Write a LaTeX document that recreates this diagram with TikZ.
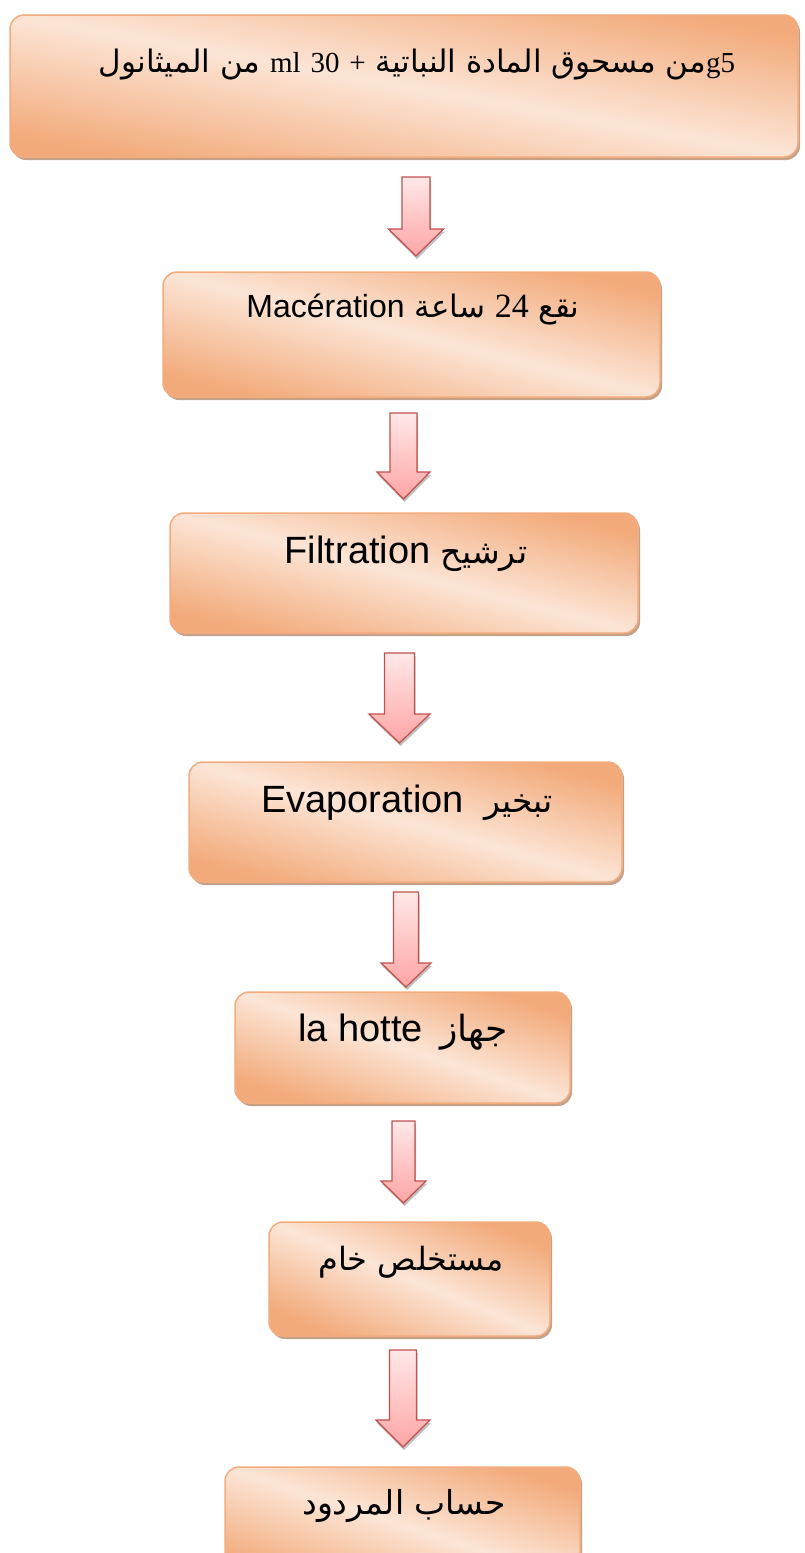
\documentclass[tikz,border=0pt]{standalone}
\usepackage{fontspec}
\usetikzlibrary{shadows,calc}
\TeXXeTstate=1
\newfontfamily\arabicfont[Script=Arabic]{DejaVu Sans}
\newfontfamily\serifl{Liberation Serif}
\newfontfamily\sansl{Liberation Sans}
\definecolor{boxdark}{RGB}{242,170,122}
\definecolor{boxlight}{RGB}{252,229,214}
\definecolor{boxborder}{RGB}{242,172,126}
\definecolor{boxshadow}{RGB}{196,162,138}
\definecolor{arrtop}{RGB}{255,232,232}
\definecolor{arrbot}{RGB}{255,165,165}
\definecolor{arrborder}{RGB}{192,80,77}
\definecolor{arrshadow}{RGB}{150,150,150}
\tikzset{
  flowbox/.style={draw=boxborder, line width=1.5pt, rounded corners=14pt,
    bottom color=boxdark, top color=boxdark, middle color=boxlight, shading angle=#1,
    inner sep=0pt, outer sep=0pt,
    drop shadow={shadow xshift=2pt, shadow yshift=-3pt, fill=boxshadow, opacity=1}},
  flowtext/.style={anchor=base, inner sep=0pt, text=black},
  arrowbody/.style={draw=arrborder, line width=1.2pt, top color=arrtop, bottom color=arrbot, line join=miter},
  arrowshade/.style={fill=arrshadow, opacity=0.6}
}
\newcommand{\blockarrow}[7]{%
  \fill[arrowshade] (#2-#6+1,#3+3) -- (#2+#6+1,#3+3) -- (#2+#6+1,#4+3) -- (#2+#7+1,#4+3) -- (#2+1,#5+3) -- (#2-#7+1,#4+3) -- (#2-#6+1,#4+3) -- cycle;
  \draw[arrowbody] (#2-#6,#3) -- (#2+#6,#3) -- (#2+#6,#4) -- (#2+#7,#4) -- (#2,#5) -- (#2-#7,#4) -- (#2-#6,#4) -- cycle;
  \coordinate (#1) at (#2,#5);}
\begin{document}
\begin{tikzpicture}[x=1pt,y=-1pt]
\path[use as bounding box] (0,0) rectangle (805,1553);
\clip (0,0) rectangle (805,1553);
% boxes
\node[flowbox=-10.2, minimum width=788pt, minimum height=142pt] (b1) at (404,86) {};
\node[flowbox=-14.1, minimum width=497pt, minimum height=125pt] (b2) at (411.5,334.5) {};
\node[flowbox=-14.4, minimum width=468pt, minimum height=120pt] (b3) at (404,573) {};
\node[flowbox=-15.5, minimum width=433pt, minimum height=120pt] (b4) at (405.5,822) {};
\node[flowbox=-18.3, minimum width=335pt, minimum height=111pt] (b5) at (402.5,1047.5) {};
\node[flowbox=-22.1, minimum width=281pt, minimum height=114pt] (b6) at (409.5,1279) {};
\node[flowbox=-18.1, minimum width=355pt, minimum height=116pt] (b7) at (402.5,1525) {};
% texts
\node[flowtext] (t1) at (417,72) {\fontsize{31}{34}\selectfont\arabicfont\beginR\beginL{\serifl\fontsize{29}{30}\selectfont g5}\endL{}من مسحوق المادة النباتية {\serifl\fontsize{29}{30}\selectfont +} \beginL{\serifl\fontsize{29}{30}\selectfont 30}\endL{} \beginL{\serifl\fontsize{29}{30}\selectfont ml}\endL{} من الميثانول\endR};
\node[flowtext] (t2) at (413,317) {\fontsize{31}{34}\selectfont\arabicfont\beginR نقع \beginL{\serifl\fontsize{34}{36}\selectfont 24}\endL{} ساعة \beginL{\sansl\fontsize{32}{36}\selectfont Macération}\endL\endR};
\node[flowtext] (t3) at (406,563) {\fontsize{33}{36}\selectfont\arabicfont\beginR ترشيح \beginL{\sansl\fontsize{38}{40}\selectfont Filtration}\endL\endR};
\node[flowtext] (t4) at (407,812) {\fontsize{33}{36}\selectfont\arabicfont\beginR تبخير\hspace{10pt} \beginL{\sansl\fontsize{38}{40}\selectfont Evaporation}\endL\endR};
\node[flowtext] (t5) at (403,1041) {\fontsize{36}{40}\selectfont\arabicfont\beginR جهاز\hspace{6pt} \beginL{\sansl\fontsize{38}{40}\selectfont la hotte}\endL\endR};
\node[flowtext] (t6) at (411,1270) {\fontsize{32}{36}\selectfont\arabicfont\beginR مستخلص خام\endR};
\node[flowtext] (t7) at (404,1514) {\fontsize{33}{36}\selectfont\arabicfont\beginR حساب المردود\endR};
% arrows
\blockarrow{a1}{416}{177}{229}{256}{14}{27.5}
\blockarrow{a2}{403.5}{413}{472}{499}{13.5}{26.5}
\blockarrow{a3}{399.5}{653}{714}{743}{15}{30.5}
\blockarrow{a4}{406}{892}{963}{987}{12.5}{25}
\blockarrow{a5}{403.5}{1121}{1181}{1203}{11.5}{22.5}
\blockarrow{a6}{403}{1350}{1420}{1447}{13.5}{27}
\end{tikzpicture}
\end{document}
